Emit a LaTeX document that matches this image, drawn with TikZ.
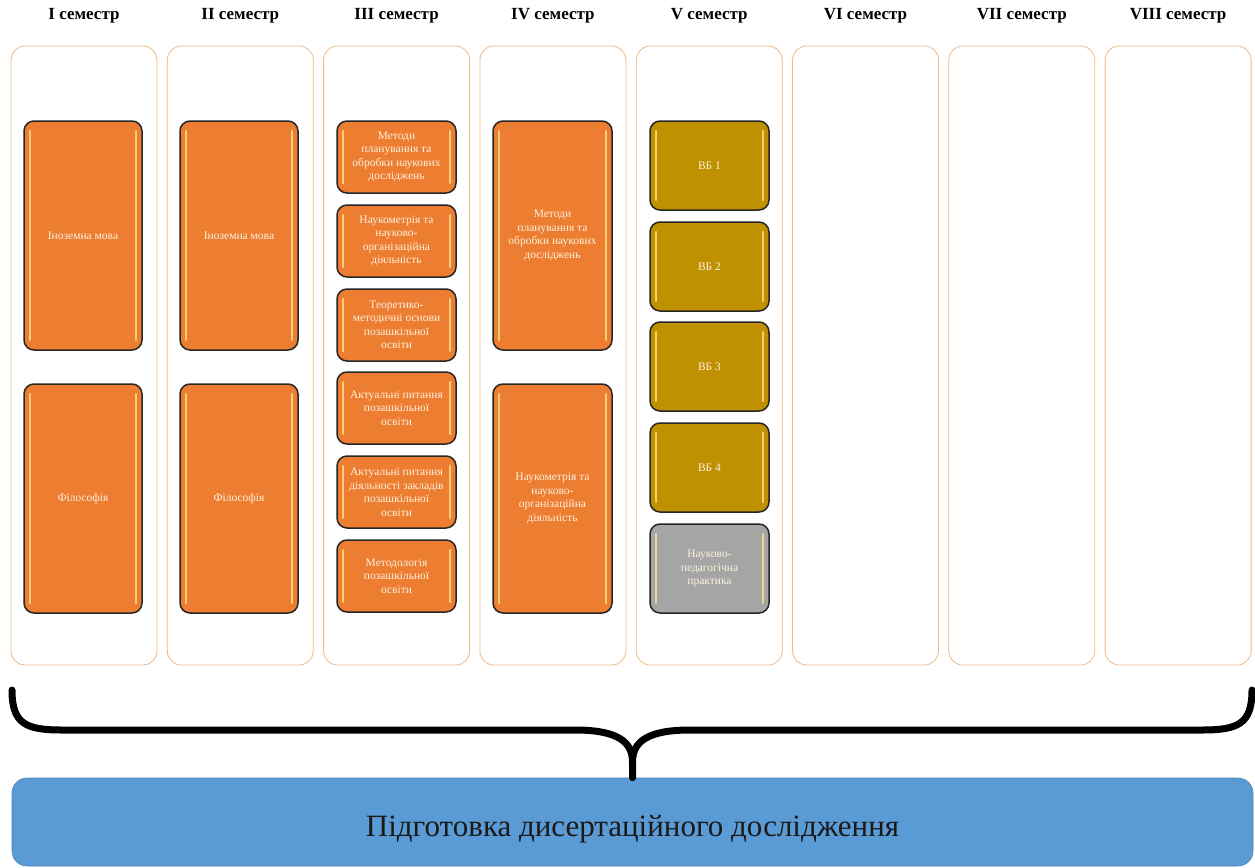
\documentclass[tikz,border=0pt]{standalone}
\usepackage{fontspec}
\setmainfont{Liberation Serif}
\definecolor{frame}{RGB}{236,186,140}
\definecolor{orangebox}{RGB}{237,125,49}
\definecolor{goldbox}{RGB}{191,144,0}
\definecolor{graybox}{RGB}{165,165,165}
\definecolor{bluebox}{RGB}{91,155,213}
\definecolor{shine}{RGB}{255,225,140}
\definecolor{boxtext}{RGB}{253,242,222}
\tikzset{
  semframe/.style={draw=frame, line width=0.8pt, fill=white, rounded corners=14pt},
  subject/.style={draw=black!85, line width=1.5pt, rounded corners=10pt, text=boxtext,
    font=\fontsize{11.5}{13.5}\selectfont, align=center, inner sep=1pt,
    path picture={
      \draw[shine, line width=2.5pt, line cap=round, opacity=0.8]
        ([xshift=6pt,yshift=-10pt]path picture bounding box.north west) --
        ([xshift=6pt,yshift=10pt]path picture bounding box.south west);
      \draw[shine, line width=2.5pt, line cap=round, opacity=0.8]
        ([xshift=-6pt,yshift=-10pt]path picture bounding box.north east) --
        ([xshift=-6pt,yshift=10pt]path picture bounding box.south east);
    }},
  semhead/.style={font=\fontsize{17}{20}\selectfont\bfseries}
}
\begin{document}
\begin{tikzpicture}[x=1pt,y=-1pt]
		\useasboundingbox (0,0) rectangle (1255,867);
		\def\pitch{156.3}
		% semester frames and headings
		\foreach \n/\r in {0/I,1/II,2/III,3/IV,4/V,5/VI,6/VII,7/VIII}{
			\draw[semframe] ({11+\n*\pitch},46) rectangle ({157+\n*\pitch},665);
			\node[semhead] (head\n) at ({84+\n*\pitch},16) {\r\ семестр};
		}
		% I and II semester
		\node[subject, fill=orangebox, minimum width=118, minimum height=229] (lang1) at (83,235.5) {Іноземна мова};
		\node[subject, fill=orangebox, minimum width=118, minimum height=229] (phil1) at (83,498.5) {Філософія};
		\node[subject, fill=orangebox, minimum width=118, minimum height=229] (lang2) at (239,235.5) {Іноземна мова};
		\node[subject, fill=orangebox, minimum width=118, minimum height=229] (phil2) at (239,498.5) {Філософія};
		% III semester
		\foreach \y/\t [count=\i] in {157/{Методи\\планування та\\обробки наукових\\досліджень},
				241/{Наукометрія та\\науково-\\організаційна\\діяльність},
				325/{Теоретико-\\методичні основи\\позашкільної\\освіти},
				408/{Актуальні питання\\позашкільної\\освіти},
				492/{Актуальні питання\\діяльності закладів\\позашкільної\\освіти},
				576/{Методологія\\позашкільної\\освіти}}{
			\node[subject, fill=orangebox, minimum width=119, minimum height=72] (third\i) at (396.5,\y) {\t};
		}
		% IV semester
		\node[subject, fill=orangebox, minimum width=119, minimum height=229] (plan4) at (552.5,235.5) {Методи\\планування та\\обробки наукових\\досліджень};
		\node[subject, fill=orangebox, minimum width=119, minimum height=229] (scient4) at (552.5,498.5) {Наукометрія та\\науково-\\організаційна\\діяльність};
		% V semester
		\foreach \y [count=\i] in {165.5,266.5,366.5,467.5}{
			\node[subject, fill=goldbox, minimum width=119, minimum height=89] (vb\i) at (709.5,\y) {ВБ \i};
		}
		\node[subject, fill=graybox, minimum width=119, minimum height=89] (practice) at (709.5,568.5) {Науково-\\педагогічна\\практика};
		% result
		\node[draw=bluebox!85!black, line width=0.6pt, fill=bluebox, rounded corners=15pt, minimum width=1241, minimum height=88] (thesis) at (632.5,822) {};
		\node[font=\fontsize{31}{36}\selectfont, text=black!90] (thesistext) at (632.5,829) {Підготовка дисертаційного дослідження};
		\coordinate (braceL) at (12,690);
		\coordinate (braceR) at (1252,690);
		\coordinate (cusp) at (632.5,762);
		\draw[line width=7pt, line cap=round] (braceL) .. controls (12,724) and (26,730) .. (62,730) -- (575,730)
			.. controls (618,730) and (632.5,742) .. (cusp) -- (thesis.north);
		\draw[line width=7pt, line cap=round] (braceR) .. controls (1252,724) and (1238,730) .. (1202,730) -- (690,730)
			.. controls (647,730) and (632.5,742) .. (cusp);
	\end{tikzpicture}
\end{document}
